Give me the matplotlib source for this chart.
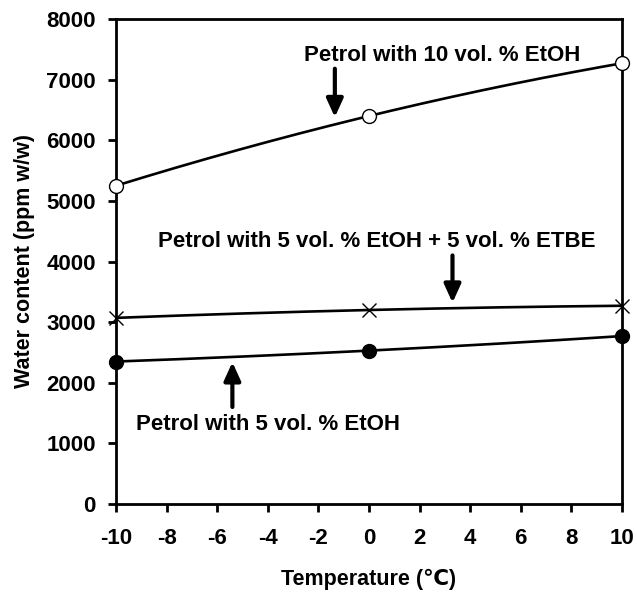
import numpy as np
import matplotlib
matplotlib.use("Agg")
import matplotlib.pyplot as plt

plt.rcParams['font.family'] = ['Liberation Sans', 'DejaVu Sans']
plt.rcParams['font.weight'] = 'bold'

temperature = [-10, 0, 10]
etoh10 = [5250, 6400, 7270]
etoh5_etbe5 = [3070, 3200, 3270]
etoh5 = [2350, 2530, 2770]

x_ticks = [-10, -8, -6, -4, -2, 0, 2, 4, 6, 8, 10]
y_ticks = [0, 1000, 2000, 3000, 4000, 5000, 6000, 7000, 8000]

label_10 = "Petrol with 10 vol. % EtOH"
label_mix = "Petrol with 5 vol. % EtOH + 5 vol. % ETBE"
label_5 = "Petrol with 5 vol. % EtOH"

fig = plt.figure(figsize=(6.37, 5.94), dpi=100)
ax = fig.add_axes([116/637, 1 - 504/594, (622-116)/637, (504-19)/594])

xs = np.linspace(-10, 10, 200)
for ys, mk, fc in [(etoh10, 'o', 'white'), (etoh5_etbe5, 'x', 'none'), (etoh5, 'o', 'black')]:
    coef = np.polyfit(temperature, ys, 2)
    ax.plot(xs, np.polyval(coef, xs), color='black', lw=1.9, zorder=2)
    if mk == 'x':
        ax.plot(temperature, ys, linestyle='none', marker='x', markersize=10,
                markeredgecolor='black', markeredgewidth=1.0, zorder=3, clip_on=False)
    else:
        ax.plot(temperature, ys, linestyle='none', marker='o', markersize=10,
                markerfacecolor=fc, markeredgecolor='black', markeredgewidth=1.0,
                zorder=3, clip_on=False)

ax.set_xlim(-10, 10)
ax.set_ylim(0, 8000)
ax.set_xticks(x_ticks)
ax.set_yticks(y_ticks)
ax.set_xticklabels([str(t) for t in x_ticks])
ax.set_yticklabels([str(t) for t in y_ticks])
ax.tick_params(axis='both', direction='out', length=5.5, width=2, labelsize=16)
ax.tick_params(axis='y', pad=9)
ax.tick_params(axis='x', pad=12)
for s in ax.spines.values():
    s.set_linewidth(2)

ax.set_xlabel("Temperature (\u2103)", fontsize=15.5, fontweight='bold', labelpad=14)
ax.set_ylabel("Water content (ppm w/w)", fontsize=15.5, fontweight='bold', labelpad=8)

arrow = dict(arrowstyle='-|>,head_length=0.55,head_width=0.25', color='black', lw=3,
             shrinkA=0, shrinkB=0, mutation_scale=20)
ax.text(2.9, 7400, label_10, ha='center', va='center', fontsize=16, fontweight='bold')
ax.annotate('', xy=(-1.35, 6380), xytext=(-1.35, 7180), arrowprops=arrow)
ax.text(0.3, 4330, label_mix, ha='center', va='center', fontsize=16, fontweight='bold')
ax.annotate('', xy=(3.3, 3320), xytext=(3.3, 4100), arrowprops=arrow)
ax.text(-4.0, 1310, label_5, ha='center', va='center', fontsize=16, fontweight='bold')
ax.annotate('', xy=(-5.4, 2340), xytext=(-5.4, 1600), arrowprops=arrow)

fig.savefig("out.png", dpi=100)
